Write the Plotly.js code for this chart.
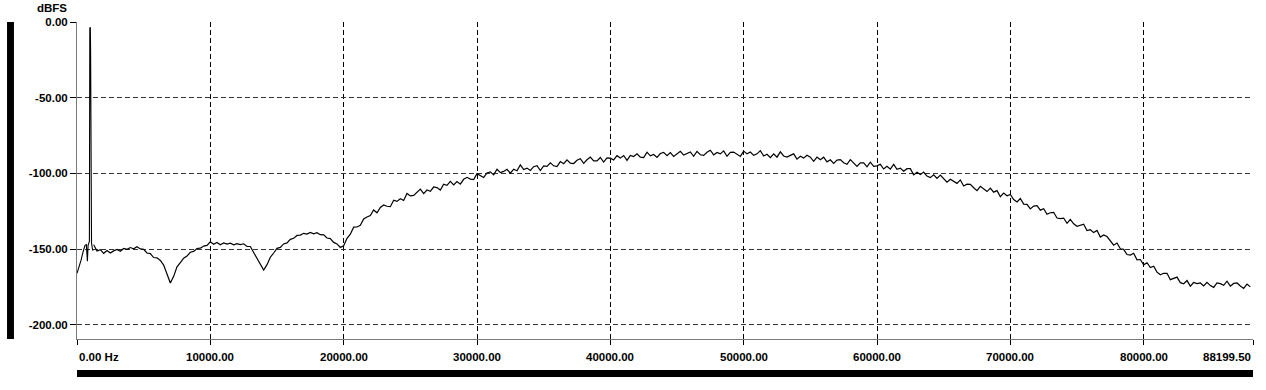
<!DOCTYPE html>
<html>
<head>
<meta charset="utf-8">
<script src="https://cdn.plot.ly/plotly-3.0.1.min.js"></script>
<style>html,body{margin:0;padding:0;background:#fff;}#chart{width:1266px;height:390px;}</style>
</head>
<body>
<div id="chart"></div>
<script>
// Low-frequency part around the 1 kHz tone (Hz, dBFS)
var lowFreq = [0, 150, 300, 450, 600, 700, 780, 830, 880, 930, 960, 1000, 1020, 1050, 1090, 1150, 1200];
var lowDb   = [-166, -162, -157.5, -152, -147.5, -147, -158, -147.5, -146, -145, -4, -3.5, -19, -106, -146, -149.5, -151];

// Main spectrum, one value every 250 Hz starting at 1250 Hz (dBFS)
var specStartHz = 1250;
var specStepHz = 250;
var specDb = [
-147.2,-151.3,-150.4,-152.8,
-151.0,-152.6,-151.2,-150.3,
-151.4,-149.6,-150.2,-149.0,
-149.8,-148.5,-149.9,-150.1,
-152.6,-153.0,-155.6,-155.8,
-157.5,-160.6,-166.5,-172.4,
-168.0,-161.7,-158.9,-156.0,
-154.6,-152.1,-151.5,-149.6,
-149.4,-148.0,-147.6,-145.2,
-146.8,-145.6,-147.1,-146.0,
-146.7,-146.1,-147.2,-146.4,
-147.0,-146.5,-148.2,-148.3,
-152.3,-156.4,-159.6,-163.8,
-160.3,-155.4,-152.6,-149.5,
-148.9,-146.6,-145.9,-143.6,
-142.9,-141.0,-140.8,-139.6,
-140.1,-139.0,-139.9,-139.2,
-140.5,-140.6,-142.7,-143.1,
-145.6,-146.6,-148.9,-147.8,
-142.9,-140.2,-135.5,-135.4,
-134.3,-130.1,-128.8,-127.9,
-124.2,-126.0,-122.5,-120.9,
-121.7,-122.0,-117.7,-118.5,
-116.8,-117.9,-113.3,-114.9,
-114.5,-112.3,-110.4,-113.4,
-111.0,-111.8,-109.0,-109.4,
-111.0,-107.2,-107.9,-105.3,
-107.6,-105.4,-107.1,-103.9,
-102.6,-103.8,-104.1,-100.2,
-101.7,-102.7,-99.7,-99.0,
-101.0,-97.3,-99.5,-98.7,
-97.3,-99.9,-97.2,-98.3,
-94.4,-97.5,-96.5,-98.1,
-95.6,-94.9,-98.1,-95.0,
-95.4,-93.0,-95.0,-95.5,
-92.2,-93.6,-91.0,-93.2,
-93.5,-91.3,-90.3,-93.4,
-91.0,-89.2,-91.7,-91.8,
-89.5,-92.5,-89.7,-89.9,
-91.1,-88.3,-89.9,-88.2,
-91.4,-88.1,-88.9,-87.1,
-89.3,-89.6,-86.0,-88.4,
-87.5,-89.4,-86.9,-86.1,
-88.3,-86.3,-88.8,-86.8,
-85.4,-87.9,-87.0,-85.8,
-88.7,-85.5,-87.7,-88.1,
-86.1,-84.7,-87.8,-86.2,
-87.1,-85.1,-88.7,-86.1,
-85.9,-87.4,-88.8,-85.3,
-87.1,-85.9,-88.1,-87.1,
-85.0,-88.5,-87.4,-89.6,
-87.1,-89.3,-85.8,-88.5,
-89.2,-88.1,-87.1,-90.6,
-88.7,-89.9,-88.0,-89.3,
-92.0,-89.2,-91.0,-89.3,
-92.4,-91.0,-93.4,-91.2,
-90.9,-93.0,-94.0,-90.9,
-93.4,-95.4,-93.1,-93.0,
-95.7,-92.6,-95.3,-95.0,
-94.0,-97.1,-95.3,-97.2,
-94.0,-97.3,-96.5,-98.6,
-96.9,-96.9,-101.0,-99.2,
-100.8,-99.1,-101.8,-102.8,
-100.9,-103.3,-101.1,-103.7,
-105.8,-103.9,-105.0,-106.6,
-104.3,-108.3,-107.1,-107.2,
-109.5,-111.4,-108.6,-110.6,
-112.0,-109.7,-112.4,-111.4,
-115.4,-113.0,-114.8,-113.9,
-117.3,-118.9,-116.6,-120.3,
-120.5,-123.5,-121.6,-121.3,
-124.3,-123.4,-127.0,-126.0,
-125.7,-129.5,-129.9,-129.5,
-133.0,-130.4,-133.3,-134.9,
-134.0,-133.6,-137.8,-137.2,
-139.1,-137.7,-142.1,-140.7,
-141.7,-144.4,-147.4,-146.0,
-149.8,-150.2,-153.6,-154.0,
-152.8,-157.1,-156.9,-160.4,
-159.0,-162.2,-161.3,-165.2,
-167.0,-166.0,-166.0,-170.2,
-169.1,-168.5,-172.2,-172.9,
-170.8,-174.5,-172.1,-172.8,
-172.4,-174.4,-172.0,-174.1,
-175.3,-172.3,-172.8,-173.9,
-171.2,-174.5,-172.7,-172.4,
-174.4,-176.0,-173.1,-175.0
];

// Axis ticks
var xTicks = [0, 10000, 20000, 30000, 40000, 50000, 60000, 70000, 80000, 88199.5];
var xTickLabels = ['0.00 Hz', '10000.00', '20000.00', '30000.00', '40000.00', '50000.00', '60000.00', '70000.00', '80000.00', '88199.50'];
var yTicks = [0, -50, -100, -150, -200];
var yTickLabels = ['0.00', '-50.00', '-100.00', '-150.00', '-200.00'];
var yUnit = 'dBFS';

var tickFont = {family: 'Liberation Sans, Arial, sans-serif', size: 11.5, color: '#000', weight: 'bold'};

var traces = [
  {x: lowFreq, y: lowDb, type: 'scatter', mode: 'lines', line: {color: '#000', width: 1.1}, hoverinfo: 'skip', showlegend: false},
  {x0: specStartHz, dx: specStepHz, y: specDb, type: 'scatter', mode: 'lines', line: {color: '#000', width: 1.2}, hoverinfo: 'skip', showlegend: false}
];

var annotations = xTicks.map(function (v, i) {
  return {
    x: v, xref: 'x', y: -0.057, yref: 'paper',
    text: xTickLabels[i], showarrow: false,
    xanchor: i === 0 ? 'left' : (i === xTicks.length - 1 ? 'right' : 'center'),
    yanchor: 'middle', font: tickFont
  };
});
annotations.push({x: -0.0213, xref: 'paper', y: 1.0457, yref: 'paper', text: yUnit, showarrow: false,
  xanchor: 'center', yanchor: 'middle', font: tickFont});

var layout = {
  width: 1266, height: 390,
  margin: {l: 77, r: 13, t: 22, b: 51, pad: 0},
  paper_bgcolor: '#fff', plot_bgcolor: '#fff',
  showlegend: false,
  xaxis: {
    range: [0, 88199.5], tickmode: 'array', tickvals: xTicks, showticklabels: false,
    showgrid: true, gridcolor: '#000', gridwidth: 1, griddash: '5px,3px',
    showline: true, linecolor: '#7a7a7a', linewidth: 1,
    ticks: 'outside', ticklen: 5, tickcolor: '#000', tickwidth: 1,
    zeroline: false, fixedrange: true
  },
  yaxis: {
    range: [-209.4, 0], tickmode: 'array', tickvals: yTicks, ticktext: yTickLabels,
    tickfont: tickFont,
    showgrid: true, gridcolor: '#333', gridwidth: 1, griddash: '5px,3px',
    showline: true, linecolor: '#7a7a7a', linewidth: 1,
    ticks: 'outside', ticklen: 6, tickcolor: '#000', tickwidth: 1,
    zeroline: false, fixedrange: true
  },
  annotations: annotations,
  shapes: [
    {type: 'rect', xref: 'paper', yref: 'paper', x0: -0.0595, x1: -0.0536, y0: 0, y1: 1, fillcolor: '#000', line: {width: 0}},
    {type: 'rect', xref: 'paper', yref: 'paper', x0: 0, x1: 1, y0: -0.0978, y1: -0.1199, fillcolor: '#000', line: {width: 0}}
  ]
};

Plotly.newPlot('chart', traces, layout, {staticPlot: true, displayModeBar: false});
</script>
</body>
</html>
